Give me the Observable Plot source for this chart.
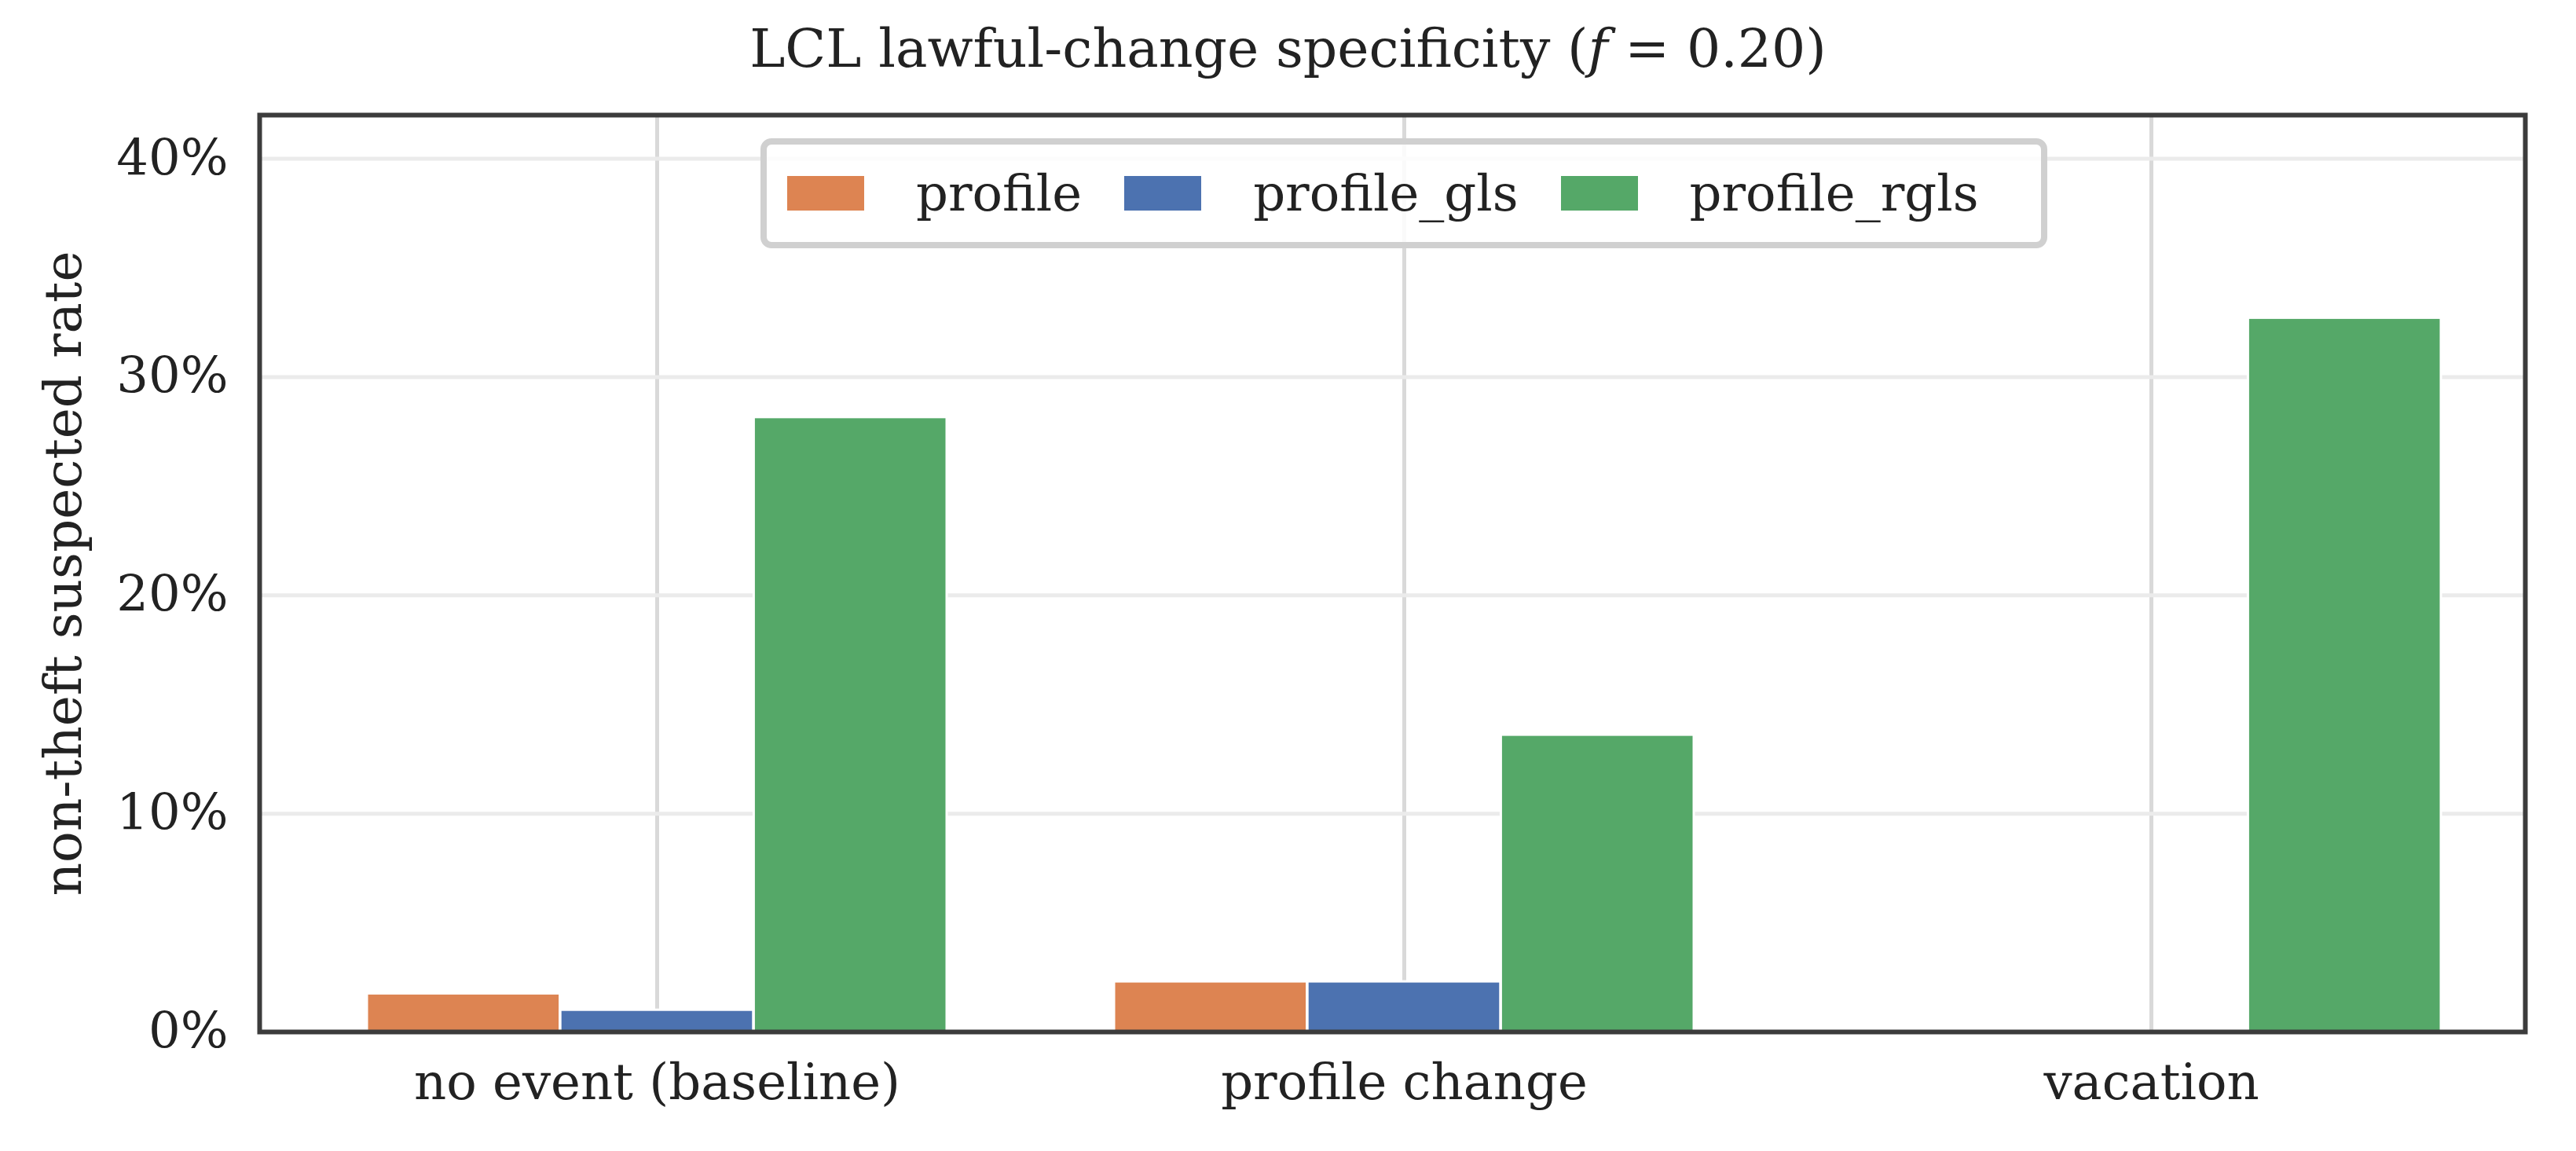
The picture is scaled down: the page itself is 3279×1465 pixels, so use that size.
<!DOCTYPE html>
<html><head><meta charset="utf-8">
<script src="https://cdn.jsdelivr.net/npm/d3@7"></script>
<script src="https://cdn.jsdelivr.net/npm/@observablehq/plot@0.6"></script>
<style>
body{margin:0;background:#fff;font-family:"DejaVu Serif",serif;color:#222}
#wrap{position:relative;width:3279px;height:1465px}
#title{position:absolute;left:0;width:3279px;text-align:center;top:22px;font-size:68px}
#ylab{position:absolute;left:80px;top:730px;transform:translate(-50%,-50%) rotate(-90deg);font-size:66px;white-space:nowrap}
#legend{position:absolute;left:968px;top:176px;width:1638px;height:140px;border:8px solid #d0d0d0;border-radius:14px;background:rgba(255,255,255,0.85);box-sizing:border-box;display:flex;align-items:center;font-size:64px}
.sw{display:inline-block;width:98px;height:44px;margin-left:26px;margin-right:66px}
.lt{margin-right:28px}
</style></head><body>
<div id="wrap"><div id="chart"></div>
<div id="title">LCL lawful-change specificity (<i>f</i> = 0.20)</div>
<div id="ylab">non-theft suspected rate</div>
<div id="legend"></div></div>
<script>
const categories = ["no event (baseline)", "profile change", "vacation"];
const seriesNames = ["profile", "profile_gls", "profile_rgls"];
const colors = ["#DD8452", "#4C72B0", "#55A868"];
const profile = [1.75, 2.3, 0];
const profile_gls = [1.0, 2.3, 0];
const profile_rgls = [28.15, 13.6, 32.7];
const yTicks = [0, 10, 20, 30, 40];
const values = [profile, profile_gls, profile_rgls];

const W = 3279, H = 1465, mL = 330, mR = 65, mT = 146, mB = 152;
const pI = 0.224, pO = 0.127, shift = 15;
const step = (W - mL - mR) / (categories.length - pI + 2 * pO);
const bw = step * (1 - pI), each = bw / 3;

const marks = [
  Plot.gridX({stroke: "#d9d9d9", strokeWidth: 5, strokeOpacity: 1}),
  Plot.gridY(yTicks, {stroke: "#ebebeb", strokeWidth: 5, strokeOpacity: 1})
];
values.forEach((vals, i) => {
  const data = categories.map((c, j) => ({c, v: vals[j]}));
  marks.push(Plot.barY(data, {x: "c", y: "v", fill: colors[i], stroke: "white", strokeWidth: 3,
    insetLeft: i * each, insetRight: (2 - i) * each}));
});
marks.push(Plot.frame({stroke: "#3c3c3c", strokeWidth: 6}));

const chart = Plot.plot({
  width: W, height: H, marginLeft: mL, marginRight: mR, marginTop: mT, marginBottom: mB,
  style: {fontFamily: "DejaVu Serif, serif", fontSize: "64px", color: "#222", background: "white"},
  x: {domain: categories, range: [mL + shift, W - mR + shift], paddingInner: pI, paddingOuter: pO, label: null, tickSize: 0, tickPadding: 40},
  y: {domain: [0, 42], ticks: yTicks, tickFormat: d => d + "%", label: null, tickSize: 0, tickPadding: 40},
  marks
});
document.getElementById("chart").appendChild(chart);

const lg = document.getElementById("legend");
seriesNames.forEach((n, i) => {
  lg.insertAdjacentHTML("beforeend", `<span class="sw" style="background:${colors[i]}"></span><span class="lt">${n}</span>`);
});
</script></body></html>
